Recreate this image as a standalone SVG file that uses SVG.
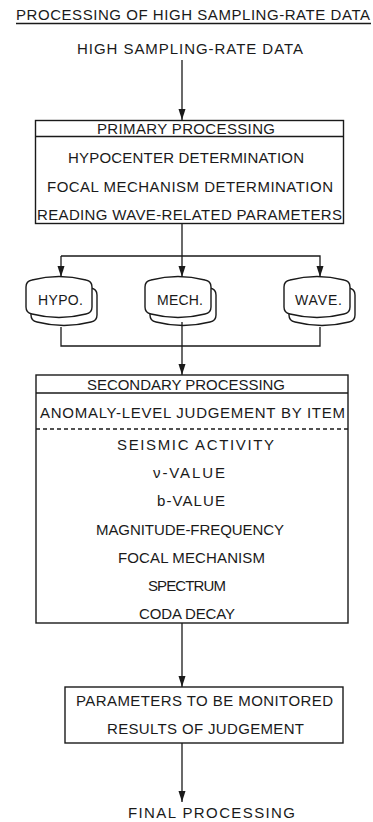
<svg xmlns="http://www.w3.org/2000/svg" width="373" height="822" viewBox="0 0 373 822">
<style>
text{font-family:"Liberation Sans","DejaVu Sans",sans-serif;font-size:15px;fill:#1a1a1a}
.s{font-size:14px}
.ln{stroke:#1a1a1a;stroke-width:1.3;fill:none}
.bx{stroke:#1a1a1a;stroke-width:1.4;fill:#fff}
</style>
<defs>
<marker id="arr" markerUnits="userSpaceOnUse" markerWidth="12" markerHeight="8" refX="11" refY="3.5" orient="auto">
<path d="M0,0 L11,3.5 L0,7 Z" fill="#1a1a1a"/>
</marker>
<path id="drum" d="M0,10 Q0,4 6,3 Q33,-4 60,3 Q66,4 66,10 L66,30 Q66,36 60,37 Q33,44 6,37 Q0,36 0,30 Z"/>
</defs>

<g id="title">
<text x="16" y="20" textLength="354" lengthAdjust="spacing">PROCESSING OF HIGH SAMPLING-RATE DATA</text>
<line class="ln" x1="16" y1="23.5" x2="371" y2="23.5"/>
</g>
<g id="input">
<text x="77" y="54" textLength="226" lengthAdjust="spacing">HIGH SAMPLING-RATE DATA</text>
</g>

<g id="primary">
<rect class="bx" x="35.5" y="120.5" width="308" height="103"/>
<line class="ln" x1="35.5" y1="136.5" x2="343.5" y2="136.5"/>
<text x="97" y="134" textLength="178" lengthAdjust="spacing">PRIMARY PROCESSING</text>
<text x="68" y="163" textLength="236" lengthAdjust="spacing">HYPOCENTER DETERMINATION</text>
<text x="47" y="192" textLength="286" lengthAdjust="spacing">FOCAL MECHANISM DETERMINATION</text>
<text x="37" y="220" textLength="305" lengthAdjust="spacing">READING WAVE-RELATED PARAMETERS</text>
</g>

<g id="hypo">
<use href="#drum" class="bx" x="31" y="285"/>
<use href="#drum" class="bx" x="26" y="277"/>
<text class="s" x="38" y="305" textLength="45" lengthAdjust="spacing">HYPO.</text>
</g>
<g id="mech">
<use href="#drum" class="bx" x="150" y="285"/>
<use href="#drum" class="bx" x="145" y="277"/>
<text class="s" x="157" y="305" textLength="46" lengthAdjust="spacing">MECH.</text>
</g>
<g id="wave">
<use href="#drum" class="bx" x="289" y="285"/>
<use href="#drum" class="bx" x="284" y="277"/>
<text class="s" x="295" y="305" textLength="47" lengthAdjust="spacing">WAVE.</text>
</g>

<g id="secondary">
<rect class="bx" x="36" y="375" width="312" height="248"/>
<line class="ln" x1="36" y1="393" x2="348" y2="393"/>
<line class="ln" x1="36" y1="429" x2="348" y2="429" stroke-dasharray="4,3"/>
<text x="87" y="390" textLength="198" lengthAdjust="spacing">SECONDARY PROCESSING</text>
<text x="40" y="418" textLength="305" lengthAdjust="spacing">ANOMALY-LEVEL JUDGEMENT BY ITEM</text>
<text x="117" y="450" textLength="157" lengthAdjust="spacing">SEISMIC ACTIVITY</text>
<text x="153" y="478" textLength="72" lengthAdjust="spacing">ν-VALUE</text>
<text x="157" y="506" textLength="68" lengthAdjust="spacing">b-VALUE</text>
<text x="96" y="535" textLength="188" lengthAdjust="spacing">MAGNITUDE-FREQUENCY</text>
<text x="118" y="563" textLength="147" lengthAdjust="spacing">FOCAL MECHANISM</text>
<text x="148" y="591" textLength="78" lengthAdjust="spacing">SPECTRUM</text>
<text x="139" y="619" textLength="96" lengthAdjust="spacing">CODA DECAY</text>
</g>

<g id="results">
<rect class="bx" x="65" y="687" width="278" height="56"/>
<text x="76" y="706" textLength="257" lengthAdjust="spacing">PARAMETERS TO BE MONITORED</text>
<text x="107" y="734" textLength="197" lengthAdjust="spacing">RESULTS OF JUDGEMENT</text>
</g>

<g id="final">
<text x="128" y="818" textLength="167" lengthAdjust="spacing">FINAL PROCESSING</text>
</g>

<g id="connectors">
<line class="ln" x1="182" y1="60" x2="182" y2="120" marker-end="url(#arr)"/>
<line class="ln" x1="182" y1="224" x2="182" y2="277" marker-end="url(#arr)"/>
<polyline class="ln" points="61,256 320,256 320,277" marker-end="url(#arr)"/>
<line class="ln" x1="61" y1="256" x2="61" y2="277" marker-end="url(#arr)"/>
<polyline class="ln" points="61,327 61,346 320,346 320,327"/>
<line class="ln" x1="182" y1="322" x2="182" y2="375" marker-end="url(#arr)"/>
<line class="ln" x1="182" y1="623" x2="182" y2="687" marker-end="url(#arr)"/>
<line class="ln" x1="182" y1="743" x2="182" y2="802" marker-end="url(#arr)"/>
</g>
</svg>
